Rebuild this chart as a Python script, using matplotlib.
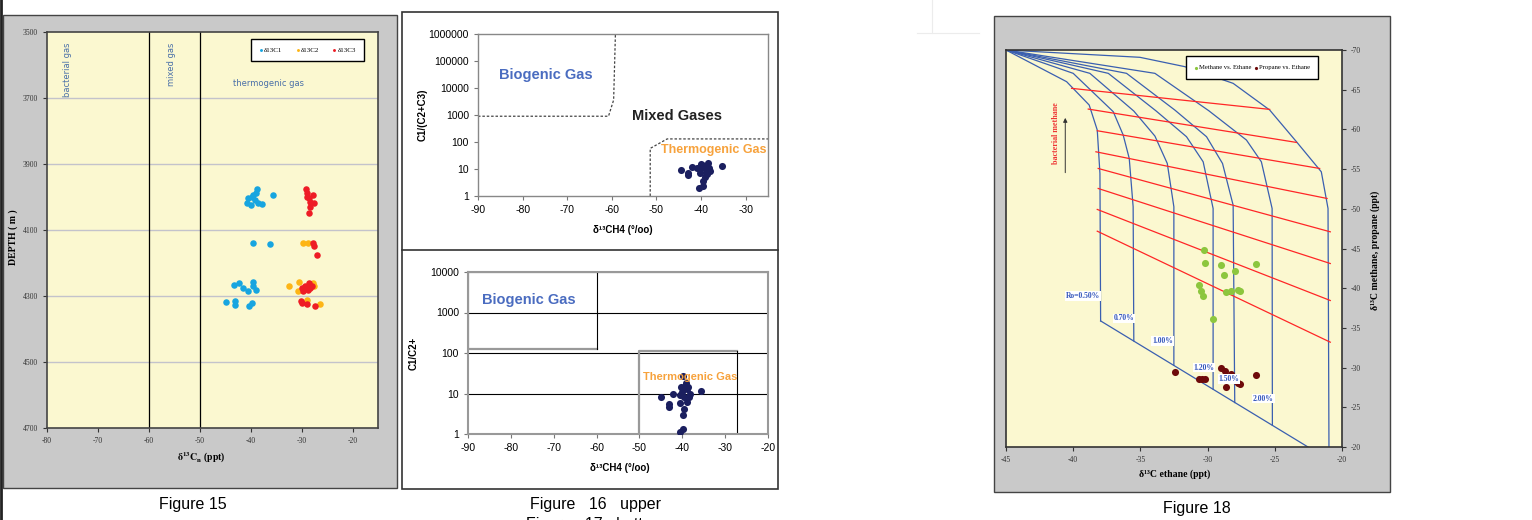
import matplotlib; matplotlib.use("Agg")
import matplotlib.pyplot as plt
from matplotlib.patches import Rectangle
from matplotlib.lines import Line2D

plt.rcParams['mathtext.fontset'] = 'stix'
plt.rcParams['axes.unicode_minus'] = False

W, H = 1532, 520

# ---- Figure 15: depth vs d13C ----
c1_x = [-38.7, -39.0, -39.5, -40.5, -40.8, -40.0, -39.2, -38.5, -37.8, -35.6, -39.8, -39.6, -36.2,
        -43.2, -42.2, -41.6, -39.6, -39.5, -40.5, -38.9, -44.8, -43.1, -43.1, -40.3, -39.8]
c1_d = [3977, 3987, 3994, 4004, 4017, 4024, 4009, 4017, 4021, 3995, 4001, 4138, 4142,
        4267, 4261, 4276, 4259, 4271, 4285, 4282, 4319, 4314, 4326, 4330, 4322]
c2_x = [-29.7, -28.7, -32.4, -30.5, -30.7, -27.7, -27.5, -29.0, -26.4, -28.4]
c2_d = [4140, 4138, 4269, 4259, 4285, 4261, 4271, 4312, 4324, 4266]
c3_x = [-29.2, -28.9, -27.7, -28.6, -28.4, -27.6, -28.4, -28.6, -29.0, -27.7, -27.6, -26.9,
        -30.0, -29.3, -28.5, -28.0, -28.7, -29.7, -28.4, -30.1, -30.0, -29.0, -27.4]
c3_d = [3977, 3987, 3994, 4004, 4014, 4019, 4029, 4048, 3999, 4140, 4150, 4176,
        4276, 4269, 4261, 4271, 4283, 4285, 4276, 4314, 4320, 4324, 4330]

# ---- Figure 16 upper / lower ----
up_x = [-44.6, -43.0, -43.0, -42.0, -40.1, -40.0, -40.3, -39.4, -39.0, -38.5, -38.2, -38.0,
        -38.6, -39.2, -39.5, -39.5, -40.4, -35.2, -39.7, -40.9]
up_y = [9.2, 7.3, 6.0, 11.5, 15.3, 10.6, 6.9, 12.2, 8.0, 16.2, 10.6, 8.4,
        6.5, 5.2, 3.7, 2.3, 1.9, 12.9, 14.1, 10.6]
lo_x = [-44.9, -43.1, -43.0, -42.2, -40.5, -40.2, -40.0, -39.8, -39.7, -39.5, -39.7, -39.8,
        -38.9, -38.7, -38.4, -38.9, -38.3, -35.6, -40.6, -39.8, -39.2, -40.6]
lo_y = [8.3, 5.5, 4.7, 10.0, 5.9, 14.1, 11.1, 26.8, 8.3, 14.6, 4.1, 2.9,
        12.6, 14.6, 8.3, 6.3, 10.0, 11.7, 1.14, 1.3, 17.7, 9.1]
bio_bound_x = [-90, -60.75, -59.6, -59.2]
bio_bound_y = [900, 900, 3600, 1e6]
thermo_bound_x = [-51.4, -51.4, -47.6, -25]
thermo_bound_y = [1, 58, 130, 130]

# ---- Figure 18: ethane vs methane/propane ----
ro_x = [[-45, -40.49, -38.81, -38.21, -38.01, -37.96],
        [-45, -40.0, -37.02, -36.28, -35.83, -35.54, -35.49],
        [-45, -38.76, -35.49, -33.92, -33.0, -32.51, -32.51],
        [-45, -37.39, -33.85, -31.57, -30.33, -29.59, -29.59],
        [-45, -36.03, -32.44, -30.08, -28.89, -28.10, -27.98],
        [-45, -33.92, -29.91, -27.11, -26.0, -25.20, -25.18],
        [-45, -35.04, -31.69, -28.10, -25.38, -23.39, -21.54, -21.04, -20.97]]
ro_y = [[-70, -66.01, -63.07, -59.92, -54.45, -35.88],
        [-70, -67.06, -62.23, -59.29, -56.34, -50.25, -33.36],
        [-70, -67.06, -62.31, -59.16, -55.71, -50.25, -30.3],
        [-70, -67.06, -62.35, -59.08, -55.92, -50.04, -27.3],
        [-70, -67.06, -62.44, -59.08, -55.71, -50.46, -25.6],
        [-70, -67.06, -62.35, -58.66, -55.92, -50.04, -22.73],
        [-70, -69.08, -67.90, -65.80, -62.44, -58.45, -54.66, -50.04, -20.0]]
base_x = [-37.96, -22.53]
base_y = [-35.88, -20.0]
iso_x0 = [-40.12, -38.88, -38.21, -38.31, -38.14, -38.14, -38.21, -38.21]
iso_y0 = [-65.17, -62.56, -59.83, -57.18, -55.08, -52.56, -49.92, -47.18]
iso_x1 = [-25.38, -23.39, -21.66, -21.11, -20.87, -20.87, -20.87, -20.87]
iso_y1 = [-62.52, -58.36, -55.08, -51.30, -47.10, -43.11, -38.45, -33.2]
ro_labels = ["Ro=0.50%", "0.70%", "1.00%", "1.20%", "1.50%", "2.00%"]
ro_lab_x = [-39.25, -36.22, -33.37, -30.27, -28.41, -25.86]
ro_lab_y = [-39.0, -36.2, -33.35, -30.0, -28.6, -26.1]
meth_x = [-30.26, -30.21, -28.97, -28.77, -27.93, -26.37, -30.63, -30.46, -30.33, -28.65,
          -28.23, -27.73, -27.56, -29.59]
meth_y = [-44.87, -43.19, -42.98, -41.64, -42.18, -43.11, -40.38, -39.62, -38.99, -39.54,
          -39.62, -39.83, -39.66, -36.18]
prop_x = [-32.39, -30.63, -30.38, -30.16, -28.97, -28.72, -28.23, -28.62, -27.73, -27.56,
          -26.37, -27.90]
prop_y = [-29.45, -28.61, -28.61, -28.61, -29.96, -29.58, -29.24, -27.56, -28.07, -27.90,
          -29.03, -28.32]

SERIF = 'Liberation Serif'
SANS = 'Liberation Sans'
YELLOW = '#fbf8d0'
GREY = '#c9c9c9'

fig = plt.figure(figsize=(W / 100, H / 100), dpi=100)


def box(l, t, r, b):
    return [l / W, 1 - b / H, (r - l) / W, (b - t) / H]


def panel(l, t, r, b, fc, ec, lw):
    fig.add_artist(Rectangle((l / W, 1 - b / H), (r - l) / W, (b - t) / H,
                             transform=fig.transFigure, fc=fc, ec=ec, lw=lw, zorder=-1))


def fline(xs, ys, **kw):
    fig.add_artist(Line2D([x / W for x in xs], [1 - y / H for y in ys],
                          transform=fig.transFigure, **kw))


# page furniture
fline([1, 1], [0, H], color='#222', lw=2)
fline([932, 932], [0, 33], color='#ececec', lw=0.8)
fline([917, 979], [33, 33], color='#ececec', lw=0.8)
panel(3, 15, 397, 488, GREY, '#444', 1.0)
panel(402, 12, 778, 489, 'white', '#333', 1.2)
fline([402, 778], [250, 250], color='#333', lw=1.2)
panel(994, 16, 1390, 492, GREY, '#444', 1.0)

# ================= Figure 15 =================
ax = fig.add_axes(box(47, 32, 378, 428), facecolor=YELLOW)
for d in [3700, 3900, 4100, 4300, 4500]:
    ax.axhline(d, color='#c3c3cb', lw=1, zorder=1)
ax.axvline(-60, color='black', lw=0.9, zorder=1)
ax.axvline(-50, color='black', lw=0.9, zorder=1)
ax.scatter(c1_x, c1_d, s=22, color='#17a5e0', label='δ13C1', zorder=3, lw=0)
ax.scatter(c2_x, c2_d, s=22, color='#fdb515', label='δ13C2', zorder=3, lw=0)
ax.scatter(c3_x, c3_d, s=22, color='#ee1c25', label='δ13C3', zorder=4, lw=0)
ax.set_xlim(-80, -15)
ax.set_ylim(4700, 3500)
ax.set_xticks(range(-80, -19, 10))
ax.set_yticks(range(3500, 4701, 200))
ax.tick_params(labelsize=5.5, length=3, colors='#333', labelfontfamily=SERIF)
for s in ax.spines.values():
    s.set_color('#444'); s.set_linewidth(1.2)
ax.text(-76, 3533, 'bacterial gas', rotation=90, ha='center', va='top',
        fontsize=6, color='#4a70a8')
ax.text(-55.5, 3533, 'mixed gas', rotation=90, ha='center', va='top',
        fontsize=6, color='#4a70a8')
ax.text(-36.6, 3655, 'thermogenic gas', ha='center', va='center',
        fontsize=6, color='#4a70a8')
ax.set_ylabel('DEPTH ( m )', fontfamily=SERIF, fontweight='bold', fontsize=7, va='center')
ax.yaxis.set_label_coords(-0.103, 0.482)
ax.set_xlabel(r'$\mathbf{\delta^{13}C_n}$ (ppt)', fontfamily=SERIF, fontweight='bold',
              fontsize=7, va='center')
ax.xaxis.set_label_coords(0.465, -0.076)
leg = ax.legend(loc='center', bbox_to_anchor=(0.607, 0.924, 0.36, 0.061), mode='expand',
                ncol=3, prop={'family': SERIF, 'size': 5}, borderpad=1.1,
                handlelength=0.5, handletextpad=0.2, markerscale=0.45, fancybox=False,
                framealpha=1, edgecolor='black')
leg.get_frame().set_linewidth(1.0)

fig.text(193 / W, 1 - 505 / H, 'Figure 15', ha='center', va='center', fontsize=11.5,
         fontfamily=SANS)

# ================= Figure 16 upper =================
ax = fig.add_axes(box(478, 34, 768, 196), facecolor='white')
ax.set_yscale('log')
ax.plot(bio_bound_x, bio_bound_y, ls=(0, (2, 1.5)), color='#444', lw=0.9)
ax.plot(thermo_bound_x, thermo_bound_y, ls=(0, (2, 1.5)), color='#444', lw=0.9)
ax.scatter(up_x, up_y, s=26, color='#1b1f5f', zorder=3, lw=0)
ax.set_xlim(-90, -25)
ax.set_ylim(1, 1e6)
ax.set_xticks(range(-90, -29, 10))
ax.set_yticks([1, 10, 100, 1000, 10000, 100000, 1000000])
ax.set_yticklabels(['1', '10', '100', '1000', '10000', '100000', '1000000'])
ax.minorticks_off()
ax.tick_params(labelsize=7.5, length=3, color='#777', labelfontfamily=SANS)
for s in ax.spines.values():
    s.set_color('#888'); s.set_linewidth(1.0)
ax.text(-74.7, 30000, 'Biogenic Gas', ha='center', va='center', fontsize=10.5,
        fontweight='bold', color='#4a6cc0', fontfamily=SANS)
ax.text(-45.5, 920, 'Mixed Gases', ha='center', va='center', fontsize=10.5,
        fontweight='bold', color='#222', fontfamily=SANS)
ax.text(-37.2, 50, 'Thermogenic Gas', ha='center', va='center', fontsize=9,
        fontweight='bold', color='#f7a23c', fontfamily=SANS, zorder=4)
ax.set_ylabel('C1/(C2+C3)', fontfamily=SANS, fontweight='bold', fontsize=7, va='center')
ax.yaxis.set_label_coords(-0.19, 0.5)
ax.set_xlabel('δ¹³CH4 (°/oo)', fontfamily=SANS, fontweight='bold', fontsize=7, va='center')
ax.xaxis.set_label_coords(0.5, -0.21)

# ================= Figure 16 lower =================
ax = fig.add_axes(box(468, 272, 768, 434), facecolor='white')
ax.set_yscale('log')
for v in [10, 100, 1000, 10000]:
    ax.axhline(v, color='black', lw=0.8, zorder=1)
ax.plot([-90, -90, -60], [10000, 124, 124], color='#999', lw=1.6, zorder=1.5)
ax.plot([-60, -60], [124, 10000], color='black', lw=0.8, zorder=1.5)
ax.plot([-50, -50, -27.2], [1, 113, 113], color='#999', lw=1.6, zorder=1.5)
ax.plot([-27.2, -27.2], [1, 113], color='black', lw=0.8, zorder=1.5)
ax.scatter(lo_x, lo_y, s=26, color='#1b1f5f', zorder=3, lw=0)
ax.set_xlim(-90, -20)
ax.set_ylim(1, 10000)
ax.set_xticks(range(-90, -19, 10))
ax.set_yticks([1, 10, 100, 1000, 10000])
ax.set_yticklabels(['1', '10', '100', '1000', '10000'])
ax.minorticks_off()
ax.tick_params(labelsize=7.5, length=3, color='#777', labelfontfamily=SANS)
for s in ax.spines.values():
    s.set_color('#999'); s.set_linewidth(1.5)
ax.text(-75.7, 2090, 'Biogenic Gas', ha='center', va='center', fontsize=10.5,
        fontweight='bold', color='#4a6cc0', fontfamily=SANS)
ax.text(-38.1, 25, 'Thermogenic Gas', ha='center', va='center', fontsize=8,
        fontweight='bold', color='#f7a23c', fontfamily=SANS, zorder=4)
ax.set_ylabel('C1/C2+', fontfamily=SANS, fontweight='bold', fontsize=7, va='center')
ax.yaxis.set_label_coords(-0.18, 0.5)
ax.set_xlabel('δ¹³CH4 (°/oo)', fontfamily=SANS, fontweight='bold', fontsize=7, va='center')
ax.xaxis.set_label_coords(0.507, -0.21)

fig.text(595 / W, 1 - 505 / H, 'Figure   16   upper', ha='center', va='center',
         fontsize=11.5, fontfamily=SANS)
fig.text(595 / W, 1 - 524 / H, 'Figure   17   bottom', ha='center', va='center',
         fontsize=11.5, fontfamily=SANS)

# ================= Figure 18 =================
ax = fig.add_axes(box(1006, 50, 1342, 447), facecolor=YELLOW)
for xs, ys in zip(ro_x, ro_y):
    ax.plot(xs, ys, color='#3a5fb0', lw=0.9, zorder=2)
ax.plot(base_x, base_y, color='#3a5fb0', lw=0.9, zorder=2)
for x0, y0, x1, y1 in zip(iso_x0, iso_y0, iso_x1, iso_y1):
    ax.plot([x0, x1], [y0, y1], color='#ff2626', lw=0.9, zorder=2)
ax.scatter(meth_x, meth_y, s=26, color='#8cc63e', zorder=3, lw=0, label='Methane vs. Ethane')
ax.scatter(prop_x, prop_y, s=26, color='#6e0a0a', zorder=3, lw=0, label='Propane vs. Ethane')
for lab, lx, ly in zip(ro_labels, ro_lab_x, ro_lab_y):
    ax.text(lx, ly, lab, ha='center', va='center', fontsize=5.5, fontweight='bold',
            color='#3355bb', fontfamily=SERIF, zorder=4,
            bbox=dict(fc='white', ec='none', pad=0.6))
ax.text(-41.3, -59.55, 'bacterial methane', rotation=90, ha='center', va='center',
        fontsize=5.8, fontweight='bold', color='#ee3333', fontfamily=SERIF)
ax.annotate('', xy=(-40.59, -61.8), xytext=(-40.59, -54.2),
            arrowprops=dict(arrowstyle='-|>', color='#333', lw=0.7, mutation_scale=6))
ax.set_xlim(-45, -20)
ax.set_ylim(-20, -70)
ax.set_xticks(range(-45, -19, 5))
ax.set_yticks(range(-70, -19, 5))
ax.yaxis.tick_right()
ax.yaxis.set_label_position('right')
ax.tick_params(labelsize=5.5, length=3, colors='#333', labelfontfamily=SERIF)
for s in ax.spines.values():
    s.set_color('#333'); s.set_linewidth(1.2)
ax.set_xlabel('δ¹³C ethane (ppt)', fontfamily=SERIF, fontweight='bold', fontsize=7,
              va='center')
ax.xaxis.set_label_coords(0.503, -0.068)
ax.set_ylabel('δ¹³C methane, propane (ppt)', fontfamily=SERIF, fontweight='bold',
              fontsize=7, va='center', rotation=90)
ax.yaxis.set_label_coords(1.098, 0.496)
leg = ax.legend(loc='upper left', bbox_to_anchor=(0.535, 0.985),
                ncol=2, prop={'family': SERIF, 'size': 4.8}, borderpad=1.3,
                borderaxespad=0, handlelength=0.5, handletextpad=0.2, markerscale=0.45,
                columnspacing=0.4, fancybox=False, framealpha=1, edgecolor='black')
leg.get_frame().set_linewidth(1.0)
leg.set_zorder(5)

fig.text(1197 / W, 1 - 509 / H, 'Figure 18', ha='center', va='center', fontsize=11.5,
         fontfamily=SANS)

fig.savefig('out.png', dpi=100)
